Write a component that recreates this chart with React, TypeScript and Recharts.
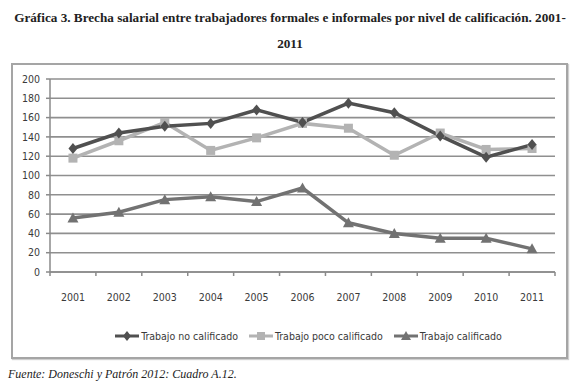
import React from 'react';
import { LineChart, Line, XAxis, YAxis, CartesianGrid } from 'recharts';

const years = ['2001', '2002', '2003', '2004', '2005', '2006', '2007', '2008', '2009', '2010', '2011'];
const noCalificado = [128, 144, 151, 154, 168, 155, 175, 165, 141, 119, 132];
const pocoCalificado = [118, 136, 155, 126, 139, 154, 149, 121, 144, 127, 128];
const calificado = [56, 62, 75, 78, 73, 87, 51, 40, 35, 35, 24];
const yTicks = [0, 20, 40, 60, 80, 100, 120, 140, 160, 180, 200];

const seriesNames = ['Trabajo no calificado', 'Trabajo poco calificado', 'Trabajo calificado'];
const colors = ['#505050', '#b3b3b3', '#727272'];

const data = years.map((y, i) => ({
  year: y,
  a: noCalificado[i],
  b: pocoCalificado[i],
  c: calificado[i],
}));

const W = 580;
const H = 391;
const M = { top: 79, right: 25, left: 0, bottom: 89 };
const Y_W = 50;
const X_H = 30;
const PLOT_BOTTOM = H - M.bottom - X_H;
const PLOT_W = W - M.left - M.right - Y_W;
const BAND = PLOT_W / years.length;
const FONT = '"DejaVu Sans Condensed", "Open Sans", sans-serif';
const AXIS_COL = '#8a8a8a';

const Diamond = (props: any) => {
  const { cx, cy, fill } = props;
  if (cx == null || cy == null) return null;
  return <path d={`M${cx},${cy - 5.5} L${cx + 4.5},${cy} L${cx},${cy + 5.5} L${cx - 4.5},${cy} Z`} fill={fill} />;
};
const Square = (props: any) => {
  const { cx, cy, fill } = props;
  if (cx == null || cy == null) return null;
  return <rect x={cx - 4.5} y={cy - 4.5} width={9} height={9} fill={fill} />;
};
const Triangle = (props: any) => {
  const { cx, cy, fill } = props;
  if (cx == null || cy == null) return null;
  return <path d={`M${cx},${cy - 5.5} L${cx + 5.5},${cy + 4.5} L${cx - 5.5},${cy + 4.5} Z`} fill={fill} />;
};

const XTick = (props: any) => {
  const { x, payload, index } = props;
  const last = index === years.length - 1;
  return (
    <g>
      <line x1={x - BAND / 2} x2={x - BAND / 2} y1={PLOT_BOTTOM} y2={PLOT_BOTTOM + 4} stroke={AXIS_COL} strokeWidth={1.5} />
      {last && (
        <line x1={x + BAND / 2} x2={x + BAND / 2} y1={PLOT_BOTTOM} y2={PLOT_BOTTOM + 4} stroke={AXIS_COL} strokeWidth={1.5} />
      )}
      <text x={x} y={PLOT_BOTTOM + 29} textAnchor="middle" fontFamily={FONT} fontSize={10.5} fill="#3a3a3a">
        {payload.value}
      </text>
    </g>
  );
};

const LegendIcon = ({ kind, color }: { kind: number; color: string }) => (
  <svg width={26} height={12} style={{ verticalAlign: 'middle' }}>
    <line x1={1} x2={25} y1={6} y2={6} stroke={color} strokeWidth={3} />
    {kind === 0 && <path d="M13,1 L17,6 L13,11 L9,6 Z" fill={color} />}
    {kind === 1 && <rect x={9} y={2} width={8} height={8} fill={color} />}
    {kind === 2 && <path d="M13,1 L18,10 L8,10 Z" fill={color} />}
  </svg>
);

const titleStyle: React.CSSProperties = {
  position: 'absolute',
  left: 0,
  width: W,
  textAlign: 'center',
  whiteSpace: 'nowrap',
  fontFamily: '"Liberation Serif", serif',
  fontWeight: 'bold',
  fontSize: 13.2,
  lineHeight: '16px',
  color: '#222',
};

export default function App() {
  return (
    <div style={{ position: 'absolute', left: 0, top: 0, width: W, height: H, background: '#fff', overflow: 'hidden' }}>
      <div style={{ ...titleStyle, top: 10 }}>
        Gráfica 3. Brecha salarial entre trabajadores formales e informales por nivel de calificación. 2001-
      </div>
      <div style={{ ...titleStyle, top: 36 }}>2011</div>
      <div
        style={{
          position: 'absolute',
          left: 11,
          top: 63,
          width: 553,
          height: 292,
          border: '2px solid #a5a5a5',
          boxShadow: '1px 1px 1px #cfcfcf',
        }}
      />
      <div style={{ position: 'absolute', left: 0, top: 0 }}>
        <LineChart width={W} height={H} data={data} margin={M}>
          <CartesianGrid vertical={false} stroke="#8f8f8f" strokeWidth={1.6} />
          <XAxis
            dataKey="year"
            height={X_H}
            tick={<XTick />}
            tickLine={false}
            axisLine={{ stroke: AXIS_COL, strokeWidth: 1.5 }}
            interval={0}
            padding={{ left: BAND / 2, right: BAND / 2 }}
          />
          <YAxis
            width={Y_W}
            domain={[0, 200]}
            ticks={yTicks}
            interval={0}
            tickSize={4}
            tickMargin={6}
            tickLine={{ stroke: AXIS_COL, strokeWidth: 1.5 }}
            axisLine={{ stroke: AXIS_COL, strokeWidth: 1.5 }}
            tick={{ fontFamily: FONT, fontSize: 10.5, fill: '#3a3a3a' }}
          />
          <Line dataKey="c" name={seriesNames[2]} stroke={colors[2]} strokeWidth={3.5} dot={<Triangle fill={colors[2]} />} isAnimationActive={false} />
          <Line dataKey="b" name={seriesNames[1]} stroke={colors[1]} strokeWidth={3.5} dot={<Square fill={colors[1]} />} isAnimationActive={false} />
          <Line dataKey="a" name={seriesNames[0]} stroke={colors[0]} strokeWidth={3.5} dot={<Diamond fill={colors[0]} />} isAnimationActive={false} />
        </LineChart>
      </div>
      <div
        style={{
          position: 'absolute',
          left: 0,
          width: W,
          top: 330,
          display: 'flex',
          justifyContent: 'center',
          alignItems: 'center',
          fontFamily: FONT,
          fontSize: 10.5,
          color: '#3a3a3a',
          paddingLeft: 36,
          boxSizing: 'border-box',
        }}
      >
        {seriesNames.map((n, i) => (
          <span key={n} style={{ display: 'inline-flex', alignItems: 'center', marginRight: i < 2 ? 10 : 0 }}>
            <LegendIcon kind={i} color={colors[i]} />
            <span style={{ marginLeft: 1 }}>{n}</span>
          </span>
        ))}
      </div>
      <div
        style={{
          position: 'absolute',
          left: 8,
          top: 367,
          fontFamily: '"Liberation Serif", serif',
          fontStyle: 'italic',
          fontSize: 12,
          color: '#222',
        }}
      >
        Fuente: Doneschi y Patrón 2012: Cuadro A.12.
      </div>
    </div>
  );
}
